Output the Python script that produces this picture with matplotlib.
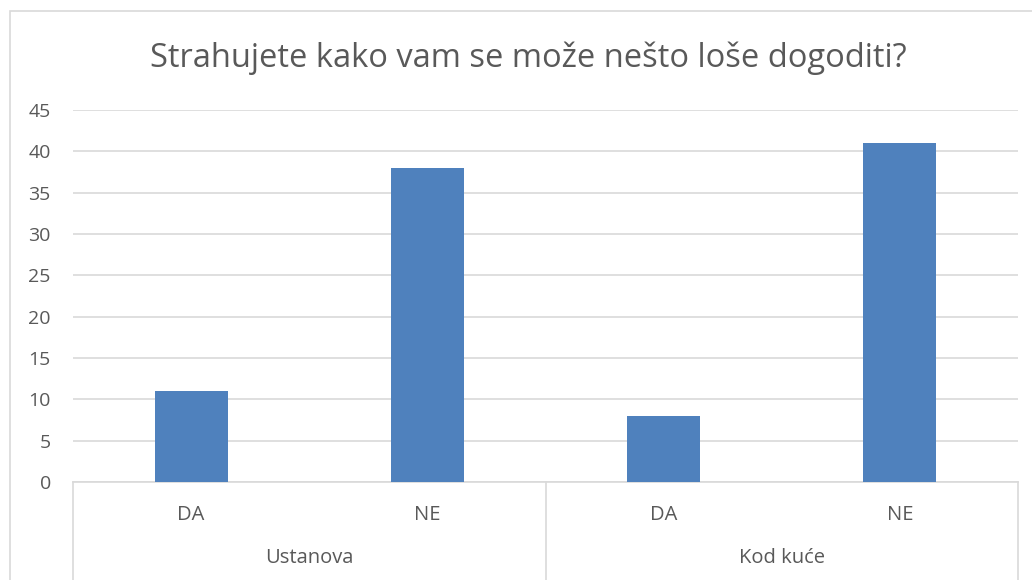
import matplotlib
matplotlib.use("Agg")
import matplotlib.pyplot as plt
from matplotlib.lines import Line2D
from matplotlib.patches import Rectangle

groups = ["Ustanova", "Kod kuće"]
answers = ["DA", "NE"]
values = [11, 38, 8, 41]
yticks = [0, 5, 10, 15, 20, 25, 30, 35, 40, 45]
title = "Strahujete kako vam se može nešto loše dogoditi?"

plt.rcParams['font.family'] = ['Open Sans', 'DejaVu Sans']
txt = "#595959"
grid = "#d9d9d9"
bar_c = "#4f81bd"

W, H = 1032, 580
fig = plt.figure(figsize=(W/100, H/100), dpi=100)
fig.patch.set_facecolor("white")

# outer chart border
fig.add_artist(Rectangle((10/W, -0.1), 1.2, (H-11)/H + 0.1, transform=fig.transFigure,
                         fill=False, edgecolor=grid, lw=1.2))

left, right, top, bottom = 73, 1018, 110, 482
ax = fig.add_axes([left/W, (H-bottom)/H, (right-left)/W, (bottom-top)/H])

labels = [a for g in groups for a in answers]
x = list(range(len(values)))
ax.bar(x, values, width=0.31, color=bar_c, zorder=3)
ax.set_xlim(-0.5, len(values) - 0.5)
ax.set_ylim(0, 45)
ax.set_yticks(yticks)
ax.set_yticklabels([str(t) for t in yticks], fontsize=14, color=txt)
ax.tick_params(axis='y', length=0, pad=16)
ax.set_xticks([])
ax.yaxis.grid(True, color=grid, lw=1.2, zorder=0)
for s in ["top", "right", "left"]:
    ax.spines[s].set_visible(False)
ax.spines["bottom"].set_color(grid)
ax.spines["bottom"].set_linewidth(1.2)

trans = ax.get_xaxis_transform()
for xi, lab in zip(x, labels):
    ax.text(xi, -0.09, lab, transform=trans, ha="center", va="center", fontsize=14.5, color=txt)
n = len(answers)
for gi, g in enumerate(groups):
    cx = gi * n + (n - 1) / 2
    ax.text(cx, -0.205, g, transform=trans, ha="center", va="center", fontsize=14.5, color=txt)
for b in range(len(groups) + 1):
    xb = b * n - 0.5
    ax.add_line(Line2D([xb, xb], [0, -0.3], transform=trans, color=grid, lw=1.2, clip_on=False))

fig.text(0.5 + 12/W, (H-58)/H, title, ha="center", va="center", fontsize=23.5, color=txt)

fig.savefig("out.png", dpi=100, facecolor="white")
